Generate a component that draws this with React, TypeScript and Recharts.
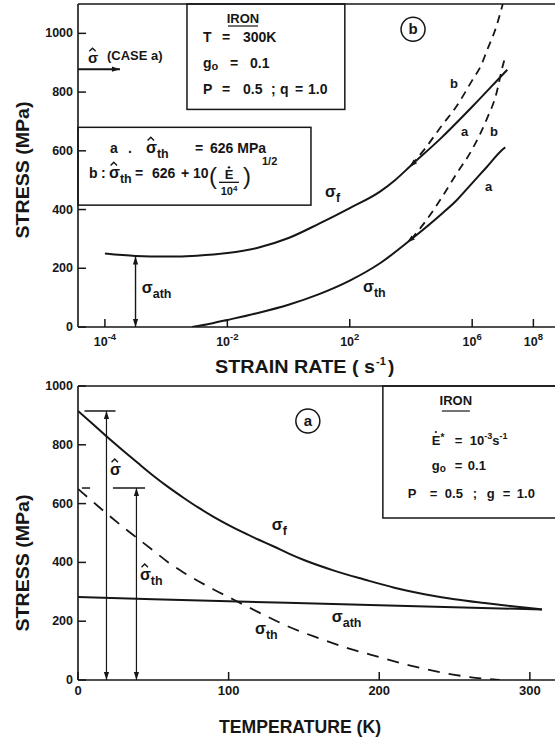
import React from "react";
import {
  LineChart,
  Line,
  XAxis,
  YAxis,
  ReferenceLine,
  ReferenceArea,
  ReferenceDot,
  Label,
} from "recharts";

const FONT = "'Liberation Sans', Arial, 'DejaVu Sans', sans-serif";
const INK = "#161616";

// panel (b): stress vs strain rate, iron at 300 K
const rateFlowA = [1e-6, 1e-5, 1e-4, 1e-3, 1e-2, 1e-1, 1, 10, 100, 1e3, 3e3, 1e4, 1e5, 1e6, 1e7, 1.4e7];
const flowA = [250, 242, 240, 243, 252, 270, 303, 352, 405, 462, 500, 550, 645, 750, 860, 876];
const rateFlowB = [1e4, 3e4, 1e5, 3e5, 1e6, 2e6, 3e6, 6e6, 1e7];
const flowB = [550, 610, 685, 750, 840, 893, 940, 1020, 1100];
const rateThA = [7e-4, 3e-3, 1e-2, 1e-1, 1, 10, 100, 1e3, 1e4, 1e5, 3e5, 1e6, 3e6, 1e7, 1.2e7];
const thA = [0, 12, 24, 48, 76, 112, 158, 218, 298, 385, 430, 490, 545, 605, 612];
const rateThB = [1e4, 3e4, 1e5, 3e5, 1e6, 3e6, 6e6, 1e7, 1.2e7];
const thB = [298, 360, 440, 520, 605, 708, 790, 890, 920];
const rateTicks = [1e-6, 1e-2, 1e2, 1e6, 1e8];
const rateTickExp = ["-4", "-2", "2", "6", "8"];
const stressTicks = [0, 200, 400, 600, 800, 1000];
const RATE_MIN = 1.32e-7;
const RATE_MAX = 1e9;

// panel (a): stress vs temperature, strain rate 1e-3
const tempFlow = [0, 10, 20, 30, 40, 50, 60, 70, 80, 90, 100, 110, 120, 130, 140, 150, 170, 190, 210, 230, 250, 270, 290, 308];
const flowT = [915, 870, 824, 780, 737, 695, 656, 620, 586, 555, 527, 501, 477, 454, 430, 408, 372, 342, 314, 292, 275, 262, 250, 240];
const tempAth = [0, 100, 200, 308];
const athT = [282, 268, 254, 240];
const tempTh = [0, 10, 20, 30, 40, 50, 60, 70, 80, 90, 100, 110, 120, 130, 140, 160, 180, 200, 220, 240, 260, 280];
const thT = [650, 606, 562, 520, 480, 440, 400, 366, 336, 308, 282, 256, 230, 205, 181, 142, 107, 78, 50, 27, 10, 0];
const tempTicks = [0, 100, 200, 300];

const zip = (xs: number[], ys: number[]) => xs.map((x, i) => ({ x, y: ys[i] }));

const txt = { fontFamily: FONT, fontWeight: "bold" as const, fill: INK };

function head(x: number, y: number, a: number) {
  const L = 8;
  const W = 2.6;
  const bx = x - L * Math.cos(a);
  const by = y - L * Math.sin(a);
  const px = -Math.sin(a) * W;
  const py = Math.cos(a) * W;
  return <polygon points={`${x},${y} ${bx + px},${by + py} ${bx - px},${by - py}`} fill={INK} />;
}

const arrow = (start: boolean, end: boolean, width = 1.4) => (p: any) => {
  const { x1, y1, x2, y2 } = p;
  const a = Math.atan2(y2 - y1, x2 - x1);
  return (
    <g>
      <line x1={x1} y1={y1} x2={x2} y2={y2} stroke={INK} strokeWidth={width} />
      {end && head(x2, y2, a)}
      {start && head(x1, y1, a + Math.PI)}
    </g>
  );
};

const Sig = ({ x, y, hat, sub, size = 16 }: any) => {
  const c = x + size * 0.3;
  return (
    <g>
      {hat && (
        <polyline
          points={`${c - 3.2},${y - size * 0.8} ${c},${y - size * 1.0} ${c + 3.2},${y - size * 0.8}`}
          fill="none"
          stroke={INK}
          strokeWidth={1.4}
        />
      )}
      <text x={x} y={y} fontSize={size} {...txt}>
        σ
        {sub && (
          <tspan dy={5} fontSize={size * 0.78}>
            {sub}
          </tspan>
        )}
      </text>
    </g>
  );
};

const note = (key: string, x: number, y: number, draw: (cx: number, cy: number) => React.ReactNode) => (
  <ReferenceDot key={key} x={x} y={y} r={0} ifOverflow="visible" shape={(p: any) => <g>{draw(p.cx, p.cy)}</g>} />
);

const circled = (letter: string) => (cx: number, cy: number) => (
  <g>
    <circle cx={cx} cy={cy} r={12} fill="none" stroke={INK} strokeWidth={1.5} />
    <text x={cx} y={cy + 5} textAnchor="middle" fontSize={15} {...txt}>
      {letter}
    </text>
  </g>
);

const curveHead = (angleDeg: number) => (cx: number, cy: number) => head(cx, cy, (angleDeg * Math.PI) / 180);

const YTick = ({ x, y, payload }: any) => (
  <g>
    <line x1={x} x2={x + 8} y1={y} y2={y} stroke={INK} strokeWidth={1.5} />
    <text x={x - 5} y={y + 4} textAnchor="end" fontSize={12.5} {...txt}>
      {payload.value}
    </text>
  </g>
);

const RateTick = ({ x, y, payload }: any) => (
  <g>
    <line x1={x} x2={x} y1={y} y2={y - 8} stroke={INK} strokeWidth={1.5} />
    <text x={x} y={y + 19} textAnchor="middle" fontSize={12.5} {...txt}>
      10
      <tspan dy={-6} fontSize={9.5}>
        {rateTickExp[rateTicks.indexOf(payload.value)]}
      </tspan>
    </text>
  </g>
);

const TempTick = ({ x, y, payload }: any) => (
  <g>
    <line x1={x} x2={x} y1={y} y2={y - 8} stroke={INK} strokeWidth={1.5} />
    <text x={x} y={y + 15} textAnchor="middle" fontSize={13} {...txt}>
      {payload.value}
    </text>
  </g>
);

const yTitle = (cy: number) => () => (
  <text
    x={22}
    y={cy}
    transform={`rotate(-90 22 ${cy})`}
    textAnchor="middle"
    dominantBaseline="central"
    fontSize={19}
    textLength={137}
    lengthAdjust="spacingAndGlyphs"
    {...txt}
  >
    STRESS (MPa)
  </text>
);

const box1 = (p: any) => {
  const { x, y, width, height } = p;
  return (
    <g>
      <rect x={x} y={y} width={width} height={height} fill="#fff" stroke={INK} strokeWidth={1.5} />
      <text x={x + 56} y={y + 19} textAnchor="middle" fontSize={13} {...txt}>IRON</text>
      <line x1={x + 41} x2={x + 71} y1={y + 22} y2={y + 22} stroke={INK} strokeWidth={1.2} />
      <text y={y + 38} fontSize={14} {...txt}>
        <tspan x={x + 16}>T</tspan>
        <tspan x={x + 35}>=</tspan>
        <tspan x={x + 56}>300K</tspan>
      </text>
      <text y={y + 64} fontSize={14} {...txt}>
        <tspan x={x + 16}>g</tspan>
        <tspan dy={2} fontSize={11}>o</tspan>
        <tspan x={x + 43} dy={-2}>=</tspan>
        <tspan x={x + 63}>0.1</tspan>
      </text>
      <text y={y + 90} fontSize={14} {...txt}>
        <tspan x={x + 16}>P</tspan>
        <tspan x={x + 35}>=</tspan>
        <tspan x={x + 56}>0.5</tspan>
        <tspan x={x + 84}>;</tspan>
        <tspan x={x + 93}>q</tspan>
        <tspan x={x + 108}>=</tspan>
        <tspan x={x + 121}>1.0</tspan>
      </text>
    </g>
  );
};

const box2 = (p: any) => {
  const { x, y, width, height } = p;
  return (
    <g>
      <rect x={x} y={y} width={width} height={height} fill="#fff" stroke={INK} strokeWidth={1.5} />
      <text y={y + 26} fontSize={14} {...txt}>
        <tspan x={x + 32}>a</tspan>
        <tspan x={x + 50}>.</tspan>
      </text>
      <Sig x={x + 68} y={y + 26} hat sub="th" />
      <text y={y + 26} fontSize={14} {...txt}>
        <tspan x={x + 117}>=</tspan>
        <tspan x={x + 132}>626 MPa</tspan>
      </text>
      <text y={y + 51} fontSize={14} {...txt}>
        <tspan x={x + 11}>b</tspan>
        <tspan x={x + 23}>:</tspan>
      </text>
      <Sig x={x + 31} y={y + 51} hat sub="th" />
      <text y={y + 51} fontSize={14} {...txt}>
        <tspan x={x + 57}>=</tspan>
        <tspan x={x + 74}>626</tspan>
        <tspan x={x + 103}>+</tspan>
        <tspan x={x + 115}>10</tspan>
      </text>
      <text x={x + 131} y={y + 57} fontSize={24} fontFamily={FONT} fill={INK}>(</text>
      <text x={x + 151} y={y + 52} textAnchor="middle" fontSize={13} {...txt}>E</text>
      <circle cx={x + 151} cy={y + 40} r={1.2} fill={INK} />
      <line x1={x + 141} x2={x + 161} y1={y + 55} y2={y + 55} stroke={INK} strokeWidth={1.3} />
      <text x={x + 151} y={y + 68} textAnchor="middle" fontSize={11} {...txt}>
        10<tspan dy={-4} fontSize={8}>4</tspan>
      </text>
      <text x={x + 165} y={y + 57} fontSize={24} fontFamily={FONT} fill={INK}>)</text>
      <text x={x + 184} y={y + 38} fontSize={11} {...txt}>1/2</text>
    </g>
  );
};

const box3 = (p: any) => {
  const { x, y, width, height } = p;
  return (
    <g>
      <rect x={x} y={y} width={width} height={height} fill="#fff" stroke={INK} strokeWidth={1.5} />
      <text x={x + 73} y={y + 19} textAnchor="middle" fontSize={13} {...txt}>IRON</text>
      <line x1={x + 59} x2={x + 87} y1={y + 25} y2={y + 25} stroke={INK} strokeWidth={1.2} />
      <text y={y + 59} fontSize={13} {...txt}>
        <tspan x={x + 49}>E</tspan>
        <tspan dy={-4} fontSize={10}>*</tspan>
        <tspan x={x + 72} dy={4}>=</tspan>
        <tspan x={x + 87}>10</tspan>
        <tspan dy={-6} fontSize={9}>-3</tspan>
        <tspan dy={6}>s</tspan>
        <tspan dy={-6} fontSize={9}>-1</tspan>
      </text>
      <circle cx={x + 53} cy={y + 46} r={1.1} fill={INK} />
      <text y={y + 84} fontSize={13} {...txt}>
        <tspan x={x + 49}>g</tspan>
        <tspan dy={2} fontSize={10}>o</tspan>
        <tspan x={x + 72} dy={-2}>=</tspan>
        <tspan x={x + 85}>0.1</tspan>
      </text>
      <text y={y + 112} fontSize={13} {...txt}>
        <tspan x={x + 25}>P</tspan>
        <tspan x={x + 47}>=</tspan>
        <tspan x={x + 62}>0.5</tspan>
        <tspan x={x + 90}>;</tspan>
        <tspan x={x + 104}>g</tspan>
        <tspan x={x + 120}>=</tspan>
        <tspan x={x + 134}>1.0</tspan>
      </text>
    </g>
  );
};

function RateChart() {
  return (
    <LineChart width={564} height={380} margin={{ top: 4, right: 0, bottom: 0, left: 0 }}>
      <XAxis
        type="number"
        dataKey="x"
        scale="log"
        domain={[RATE_MIN, RATE_MAX]}
        allowDataOverflow
        ticks={rateTicks}
        interval={0}
        height={53}
        tickSize={0}
        tickMargin={0}
        tickLine={false}
        axisLine={{ stroke: INK, strokeWidth: 1.6 }}
        tick={(p: any) => <RateTick {...p} />}
      >
        <Label
          content={() => (
            <g>
              <text x={215} y={373} fontSize={19} textLength={160} lengthAdjust="spacingAndGlyphs" {...txt}>
                STRAIN RATE ( s
              </text>
              <text x={376} y={365} fontSize={11} {...txt}>-1</text>
              <text x={388} y={373} fontSize={19} {...txt}>)</text>
            </g>
          )}
        />
      </XAxis>
      <YAxis
        type="number"
        domain={[0, 1100]}
        allowDataOverflow
        ticks={stressTicks}
        interval={0}
        width={78}
        tickSize={0}
        tickMargin={0}
        tickLine={false}
        axisLine={{ stroke: INK, strokeWidth: 1.6 }}
        tick={(p: any) => <YTick {...p} />}
      >
        <Label content={yTitle(170)} />
      </YAxis>
      <ReferenceLine y={1100} stroke={INK} strokeWidth={1.6} ifOverflow="visible" />
      <ReferenceArea x1={4.8e-4} x2={69} y1={741} y2={1100} ifOverflow="visible" shape={box1} />
      <ReferenceArea x1={RATE_MIN} x2={5.4} y1={415} y2={680} ifOverflow="visible" shape={box2} />

      <Line data={zip(rateFlowA, flowA)} dataKey="y" type="monotone" stroke={INK} strokeWidth={2} dot={false} isAnimationActive={false} />
      <Line data={zip(rateFlowB, flowB)} dataKey="y" type="monotone" stroke={INK} strokeWidth={1.8} strokeDasharray="8 6" dot={false} isAnimationActive={false} />
      <Line data={zip(rateThA, thA)} dataKey="y" type="monotone" stroke={INK} strokeWidth={2} dot={false} isAnimationActive={false} />
      <Line data={zip(rateThB, thB)} dataKey="y" type="monotone" stroke={INK} strokeWidth={1.8} strokeDasharray="8 6" dot={false} isAnimationActive={false} />

      <ReferenceLine segment={[{ x: RATE_MIN, y: 878 }, { x: 3.1e-6, y: 878 }]} ifOverflow="visible" shape={arrow(false, true, 2)} />
      <ReferenceLine segment={[{ x: 1e-5, y: 0 }, { x: 1e-5, y: 240 }]} ifOverflow="visible" shape={arrow(true, true)} />

      {note("hf", 9e3, 545, curveHead(136))}
      {note("hth", 7.4e3, 288, curveHead(141))}
      {note("caseA", 2.8e-7, 898, (cx, cy) => (
        <g>
          <Sig x={cx} y={cy} hat size={15} />
          <text x={cx + 19} y={cy - 3} fontSize={13} {...txt}>(CASE a)</text>
        </g>
      ))}
      {note("ath", 1.6e-5, 116, (cx, cy) => <Sig x={cx} y={cy} sub="ath" />)}
      {note("sf", 15.5, 442, (cx, cy) => <Sig x={cx} y={cy} sub="f" />)}
      {note("sth", 270, 119, (cx, cy) => <Sig x={cx} y={cy} sub="th" />)}
      {note("lb1", 1.9e5, 813, (cx, cy) => <text x={cx} y={cy} fontSize={13} {...txt}>b</text>)}
      {note("la1", 4.3e5, 650, (cx, cy) => <text x={cx} y={cy} fontSize={13} {...txt}>a</text>)}
      {note("lb2", 3.8e6, 650, (cx, cy) => <text x={cx} y={cy} fontSize={13} {...txt}>b</text>)}
      {note("la2", 2.6e6, 463, (cx, cy) => <text x={cx} y={cy} fontSize={13} {...txt}>a</text>)}
      {note("panelB", 1.17e4, 1014, circled("b"))}
    </LineChart>
  );
}

function TempChart() {
  return (
    <LineChart width={560} height={374} margin={{ top: 16, right: 0, bottom: 0, left: 0 }}>
      <XAxis
        type="number"
        dataKey="x"
        domain={[0, 320]}
        allowDataOverflow
        ticks={tempTicks}
        interval={0}
        height={64}
        tickSize={0}
        tickMargin={0}
        tickLine={false}
        axisLine={{ stroke: INK, strokeWidth: 1.6 }}
        tick={(p: any) => <TempTick {...p} />}
      >
        <Label
          content={() => (
            <text x={300} y={363} textAnchor="middle" fontSize={19} textLength={162} lengthAdjust="spacingAndGlyphs" {...txt}>
              TEMPERATURE (K)
            </text>
          )}
        />
      </XAxis>
      <YAxis
        type="number"
        domain={[0, 1000]}
        allowDataOverflow
        ticks={stressTicks}
        interval={0}
        width={78}
        tickSize={0}
        tickMargin={0}
        tickLine={false}
        axisLine={{ stroke: INK, strokeWidth: 1.6 }}
        tick={(p: any) => <YTick {...p} />}
      >
        <Label content={yTitle(193)} />
      </YAxis>
      <ReferenceLine y={1000} stroke={INK} strokeWidth={1.6} ifOverflow="visible" />
      <ReferenceArea x1={202.4} x2={320} y1={551} y2={1000} ifOverflow="visible" shape={box3} />

      <Line data={zip(tempFlow, flowT)} dataKey="y" type="monotone" stroke={INK} strokeWidth={2} dot={false} isAnimationActive={false} />
      <Line data={zip(tempAth, athT)} dataKey="y" type="monotone" stroke={INK} strokeWidth={2} dot={false} isAnimationActive={false} />
      <Line data={zip(tempTh, thT)} dataKey="y" type="monotone" stroke={INK} strokeWidth={1.8} strokeDasharray="12 9" dot={false} isAnimationActive={false} />

      <ReferenceLine segment={[{ x: 18.9, y: 0 }, { x: 18.9, y: 915 }]} ifOverflow="visible" shape={arrow(true, true, 1.2)} />
      <ReferenceLine segment={[{ x: 4.3, y: 915 }, { x: 24.9, y: 915 }]} ifOverflow="visible" stroke={INK} strokeWidth={1.5} />
      <ReferenceLine segment={[{ x: 38.8, y: 0 }, { x: 38.8, y: 653 }]} ifOverflow="visible" shape={arrow(true, true, 1.2)} />
      <ReferenceLine segment={[{ x: 23.2, y: 653 }, { x: 44.5, y: 653 }]} ifOverflow="visible" stroke={INK} strokeWidth={1.5} />
      <ReferenceLine segment={[{ x: 2.6, y: 653 }, { x: 8, y: 653 }]} ifOverflow="visible" stroke={INK} strokeWidth={1.5} />

      {note("hat", 21.2, 697, (cx, cy) => <Sig x={cx} y={cy} hat />)}
      {note("hatTh", 41.1, 340, (cx, cy) => <Sig x={cx} y={cy} hat sub="th" />)}
      {note("sf", 128.7, 510, (cx, cy) => <Sig x={cx} y={cy} sub="f" />)}
      {note("sath", 168.5, 197, (cx, cy) => <Sig x={cx} y={cy} sub="ath" />)}
      {note("sth", 117.5, 156, (cx, cy) => <Sig x={cx} y={cy} sub="th" />)}
      {note("panelA", 152.6, 881, circled("a"))}
    </LineChart>
  );
}

export default function App() {
  return (
    <div
      style={{
        position: "absolute",
        left: 0,
        top: 0,
        width: 555,
        height: 744,
        overflow: "hidden",
        background: "#fff",
      }}
    >
      <div style={{ position: "absolute", left: 0, top: 0 }}>
        <RateChart />
      </div>
      <div style={{ position: "absolute", left: 0, top: 370 }}>
        <TempChart />
      </div>
    </div>
  );
}
